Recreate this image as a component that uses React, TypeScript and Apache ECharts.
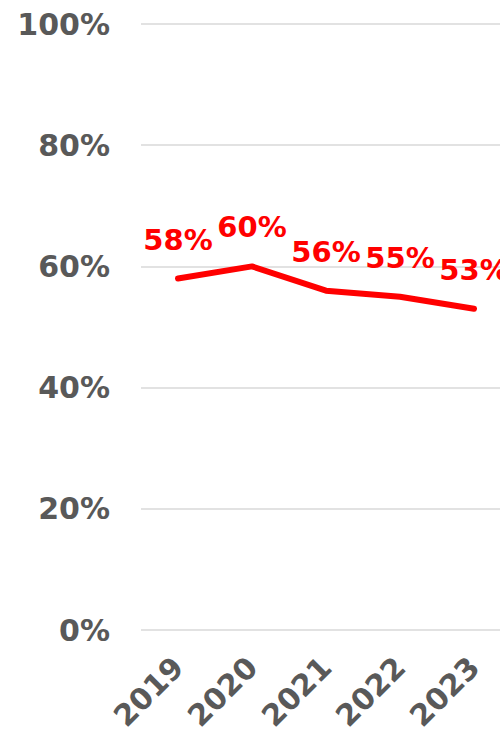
import React, { useEffect, useRef } from "react";
import * as echarts from "echarts";

const categories = ["2019", "2020", "2021", "2022", "2023"];
const values = [58, 60, 56, 55, 53];
const yTicks = [0, 20, 40, 60, 80, 100];

export default function App() {
  const ref = useRef<HTMLDivElement>(null);
  useEffect(() => {
    if (!ref.current) return;
    const chart = echarts.init(ref.current, undefined, { renderer: "svg" });
    chart.setOption({
      animation: false,
      grid: { left: 141, top: 24, bottom: 108, right: -11, outerBoundsMode: "none", containLabel: false },
      xAxis: {
        type: "category",
        data: categories,
        boundaryGap: true,
        axisLine: { show: false },
        axisTick: { show: false },
        axisLabel: {
          rotate: 45,
          margin: 32,
          color: "#595959",
          fontFamily: "DejaVu Sans",
          fontWeight: "bold",
          fontSize: 30,
        },
      },
      yAxis: {
        type: "value",
        min: yTicks[0],
        max: yTicks[yTicks.length - 1],
        interval: 20,
        axisLine: { show: false },
        axisTick: { show: false },
        splitLine: { lineStyle: { color: "#d9d9d9", width: 1.5 } },
        axisLabel: {
          margin: 31,
          color: "#595959",
          fontFamily: "DejaVu Sans",
          fontWeight: "bold",
          fontSize: 30,
          formatter: (v: number) => v + "%",
        },
      },
      series: [
        {
          type: "line",
          data: values,
          symbol: "circle",
          symbolSize: 1,
          lineStyle: { color: "#ff0000", width: 6, cap: "round" },
          itemStyle: { color: "#ff0000" },
          label: {
            show: true,
            position: "top",
            distance: 24,
            color: "#ff0000",
            fontFamily: "DejaVu Sans",
            fontWeight: "bold",
            fontSize: 29,
            formatter: (p: any) => p.value + "%",
          },
        },
      ],
    });
    return () => chart.dispose();
  }, []);
  return (
    <div
      ref={ref}
      style={{ position: "fixed", left: 0, top: 0, width: 500, height: 738, background: "#fff" }}
    />
  );
}
